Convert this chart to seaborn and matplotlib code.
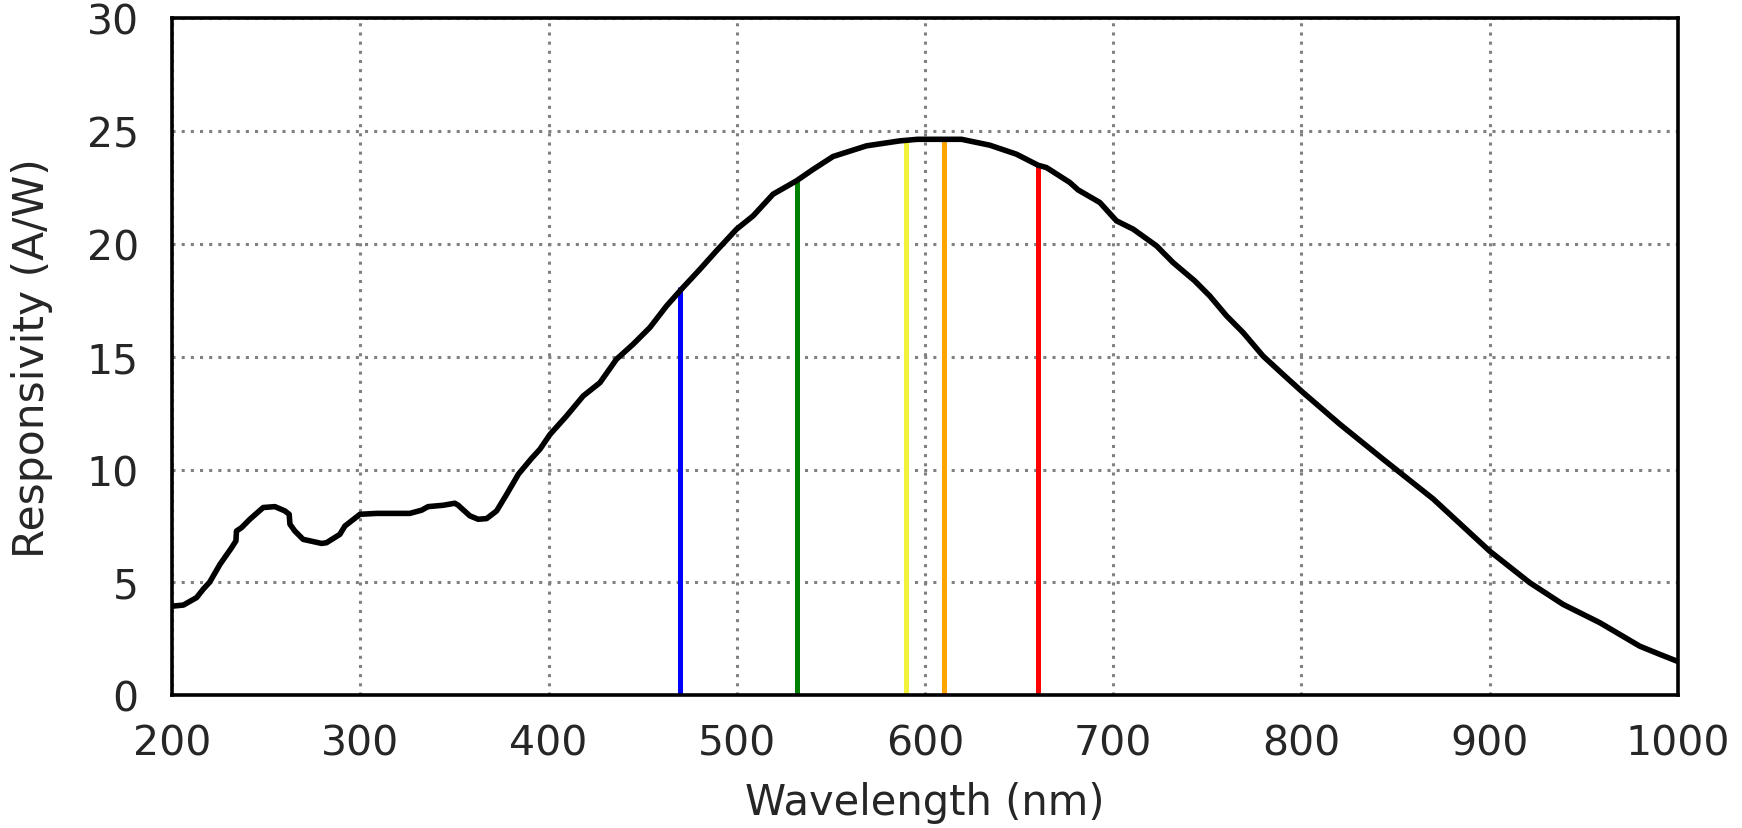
import matplotlib
matplotlib.use("Agg")
import matplotlib.pyplot as plt
import seaborn as sns
import pandas as pd

wavelength = [200, 206, 213, 216.5, 220, 225.4, 231.6, 233.9, 234.2, 236.9, 241.3, 248.4,
              254.6, 259.9, 262.2, 262.6, 265.2, 269.6, 279.4, 282, 289.1, 291.8, 299.8,
              308.6, 326.3, 332.5, 336, 344, 350.2, 352, 358.2, 362.6, 367.1, 372.4, 377.7,
              384, 391, 395.4, 400.7, 409.6, 418.4, 427.3, 436.1, 444.9, 453.8, 462.7,
              470.6, 480.4, 489.2, 499.9, 508.7, 519.3, 531.7, 540.6, 551.2, 568.9, 586.6,
              596, 619.4, 634.4, 648.6, 660.1, 664.5, 676.9, 681.3, 692.9, 701.7, 710.6,
              723, 731.8, 743.3, 751.3, 760.2, 769, 779.6, 792, 800.9, 820.4, 843.4, 870,
              900, 921.3, 939, 958.5, 979.7, 990.3, 1000]
responsivity = [3.95, 4.0, 4.33, 4.70, 5.02, 5.80, 6.54, 6.84, 7.28, 7.43, 7.80, 8.32,
                8.36, 8.17, 8.02, 7.58, 7.28, 6.91, 6.73, 6.76, 7.13, 7.50, 8.02,
                8.06, 8.06, 8.2, 8.36, 8.42, 8.51, 8.42, 7.95, 7.80, 7.83, 8.17, 8.9,
                9.8, 10.5, 10.9, 11.55, 12.38, 13.26, 13.85, 14.89, 15.55, 16.29, 17.25,
                17.99, 18.87, 19.69, 20.65, 21.24, 22.20, 22.79, 23.3, 23.87, 24.34, 24.56,
                24.63, 24.63, 24.37, 23.97, 23.48, 23.38, 22.72, 22.39, 21.83, 21.02, 20.65,
                19.91, 19.17, 18.36, 17.69, 16.81, 16.07, 15.03, 14.08, 13.41, 12.01, 10.46, 8.7,
                6.39, 4.99, 4.03, 3.22, 2.18, 1.82, 1.5]

laser_wavelength = [470, 532, 590, 610, 660]
laser_height = [18.1, 22.8, 24.56, 24.6, 23.45]
laser_color = ["#0000ff", "#008000", "#f2f23c", "#ffa500", "#ff0000"]

xticks = [200, 300, 400, 500, 600, 700, 800, 900, 1000]
yticks = [0, 5, 10, 15, 20, 25, 30]

sns.set_style("white")
plt.rcParams['font.family'] = ['DejaVu Sans']

fig = plt.figure(figsize=(17.42, 8.29), dpi=100)
ax = fig.add_axes([0.0988, 0.160, 0.8644, 0.817])

df = pd.DataFrame({"wavelength": wavelength, "responsivity": responsivity})

ax.vlines(laser_wavelength, 0, laser_height, colors=laser_color, linewidth=3.6, zorder=2)
sns.lineplot(data=df, x="wavelength", y="responsivity", sort=False, estimator=None,
             color="black", linewidth=4.0, ax=ax, zorder=3)

ax.set_xlim(200, 1000)
ax.set_ylim(0, 30)
ax.set_xticks(xticks)
ax.set_yticks(yticks)
ax.grid(True, color="#808080", linestyle=(0, (1, 2)), linewidth=2.2)
ax.set_axisbelow(True)
for s in ax.spines.values():
    s.set_color("black")
    s.set_linewidth(2.6)
ax.tick_params(axis="both", labelsize=29.5, colors=".15", length=0)
ax.tick_params(axis="x", pad=20)
ax.tick_params(axis="y", pad=24)
ax.set_xlabel("Wavelength (nm)", fontsize=30, color=".15", labelpad=13)
ax.set_ylabel("Responsivity (A/W)", fontsize=30.5, color=".15", labelpad=24)

fig.savefig("out.png", dpi=100)
